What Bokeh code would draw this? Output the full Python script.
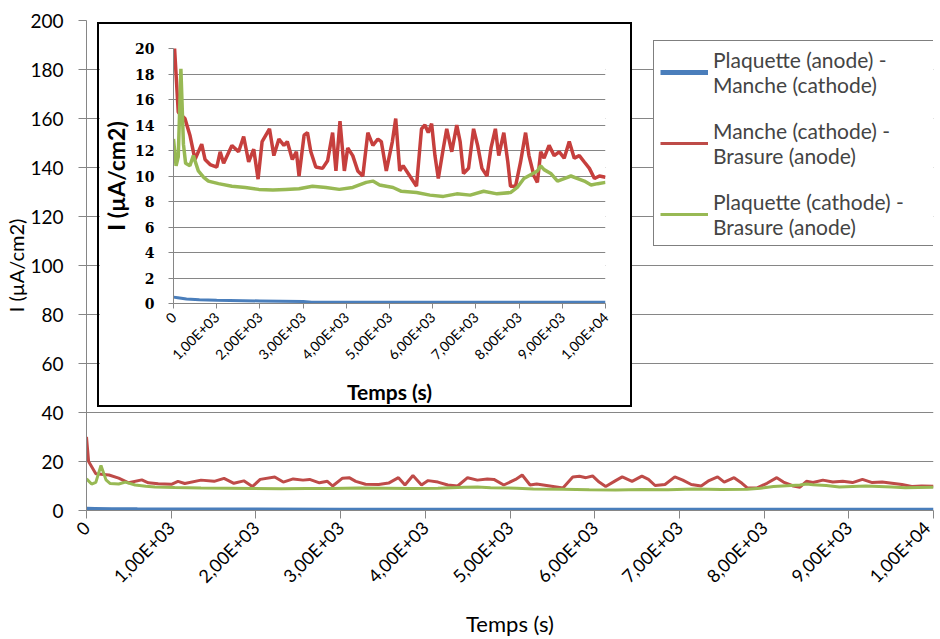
import math
from bokeh.plotting import figure
from bokeh.layouts import column
from bokeh.models import FixedTicker, Legend, LegendItem, Range1d
from bokeh.embed import file_html
from bokeh.resources import INLINE

# ---------------- data ----------------
x_ticks = [0, 1000, 2000, 3000, 4000, 5000, 6000, 7000, 8000, 9000, 10000]
x_tick_labels = ["0", "1,00E+03", "2,00E+03", "3,00E+03", "4,00E+03", "5,00E+03",
                 "6,00E+03", "7,00E+03", "8,00E+03", "9,00E+03", "1,00E+04"]
main_y_ticks = [0, 20, 40, 60, 80, 100, 120, 140, 160, 180, 200]
inset_y_ticks = [0, 2, 4, 6, 8, 10, 12, 14, 16, 18, 20]

series_names = ["Plaquette (anode) -\nManche (cathode)",
                "Manche (cathode) -\nBrasure (anode)",
                "Plaquette (cathode) -\nBrasure (anode)"]

t_blue = [0, 100, 300, 600, 1000, 2000, 3000, 3200, 5000, 7000, 10000]
i_blue = [0.5, 0.45, 0.35, 0.3, 0.25, 0.2, 0.15, 0.1, 0.1, 0.1, 0.1]

t_red = [0, 25, 110, 265, 380, 497, 653, 730, 847, 1002, 1080, 1160, 1352, 1507, 1624,
         1740, 1857, 1958, 2051, 2222, 2323, 2440, 2556, 2634, 2750, 2844, 2906, 3023,
         3101, 3179, 3294, 3450, 3567, 3683, 3760, 3854, 3955, 4033, 4149, 4266, 4382,
         4499, 4615, 4732, 4810, 4926, 5066, 5144, 5237, 5315, 5470, 5625, 5741, 5820,
         5897, 5975, 6052, 6130, 6247, 6325, 6441, 6557, 6635, 6713, 6830, 6946, 7040,
         7140, 7257, 7350, 7451, 7529, 7646, 7739, 7801, 7918, 8034, 8150, 8228, 8345,
         8423, 8500, 8578, 8694, 8811, 8928, 9044, 9161, 9277, 9394, 9510, 9627, 9744,
         9860, 10000]
i_red = [30, 20, 15, 14.5, 13.2, 11.3, 12.5, 11.3, 10.9, 10.7, 11.9, 11.0, 12.4, 11.9, 13.1,
         11.1, 12.1, 9.75, 12.7, 13.7, 11.6, 12.9, 12.4, 12.7, 11.3, 11.9, 10.0, 13.2,
         13.4, 11.9, 10.7, 10.6, 11.2, 13.4, 10.4, 14.3, 10.4, 12.2, 11.6, 10.4, 10.0,
         13.4, 12.4, 12.9, 12.7, 10.4, 12.7, 14.5, 10.4, 10.8, 10.0, 9.2, 13.7, 14.0,
         13.4, 14.1, 11.6, 9.8, 12.2, 13.7, 11.9, 14.0, 12.7, 10.2, 10.6, 13.7, 12.4,
         10.6, 10.0, 12.2, 13.7, 11.6, 13.4, 11.1, 9.2, 9.2, 11.1, 13.4, 11.6, 10.0,
         9.5, 11.9, 11.4, 12.4, 11.6, 11.9, 11.4, 12.7, 11.4, 11.6, 11.1, 10.6, 9.8,
         10.0, 9.9]

t_green = [0, 60, 110, 171, 230, 280, 380, 459, 575, 700, 808, 1041, 1352, 1663, 1974,
           2300, 2595, 2906, 3217, 3528, 3839, 4149, 4460, 4615, 4771, 5082, 5276, 5625,
           5936, 6247, 6557, 6868, 7179, 7490, 7801, 7957, 8111, 8267, 8423, 8500, 8578,
           8733, 8889, 9044, 9200, 9355, 9510, 9666, 9821, 10000]
i_green = [12.9, 10.8, 11.5, 18.4, 12.5, 11.0, 10.8, 11.6, 10.4, 9.9, 9.6, 9.4, 9.2, 9.1, 8.95,
           8.9, 8.95, 9.0, 9.2, 9.1, 8.95, 9.1, 9.5, 9.6, 9.3, 9.1, 8.8, 8.7,
           8.5, 8.4, 8.6, 8.5, 8.8, 8.6, 8.7, 9.1, 9.8, 10.1, 10.4, 10.8, 10.5,
           10.2, 9.6, 9.8, 10.0, 9.8, 9.6, 9.3, 9.4, 9.5]

# ---------------- style ----------------
BLUE = "#4A7EBB"
RED = "#BE4B48"
RED_INSET = "#C63F3D"
GREEN = "#98B954"
GRID = "#868686"
SANS = "Lato"

# ---------------- main figure ----------------
main = figure(width=934, height=639,
              min_border_left=86, min_border_right=1, min_border_top=20, min_border_bottom=128,
              x_range=Range1d(0, 10000), y_range=Range1d(0, 200),
              output_backend="svg", toolbar_location=None,
              background_fill_color="white", border_fill_color="white")
main.frame_align = False
main.outline_line_color = None
main.xgrid.visible = False
main.ygrid.grid_line_color = GRID
main.ygrid.ticker = FixedTicker(ticks=main_y_ticks)

rb = main.line(t_blue, i_blue, line_color=BLUE, line_width=5)
rr = main.line(t_red, i_red, line_color=RED, line_width=3)
rg = main.line(t_green, i_green, line_color=GREEN, line_width=3)

for ax in (main.xaxis[0], main.yaxis[0]):
    ax.axis_line_color = GRID
    ax.major_tick_line_color = GRID
    ax.minor_tick_line_color = None
    ax.major_tick_in = 0
    ax.major_tick_out = 8
    ax.major_label_text_font = SANS
    ax.major_label_text_color = "black"
    ax.axis_label_text_font = SANS
    ax.axis_label_text_font_style = "normal"
    ax.axis_label_text_color = "black"

main.xaxis.ticker = FixedTicker(ticks=x_ticks)
main.xaxis.major_label_overrides = {t: l for t, l in zip(x_ticks, x_tick_labels)}
main.xaxis.major_label_orientation = math.pi / 4
main.xaxis.major_label_text_font_size = "18px"
main.xaxis.major_label_standoff = 6
main.xaxis.axis_label = "Temps (s)"
main.xaxis.axis_label_text_font_size = "22px"
main.xaxis.axis_label_standoff = 12

main.yaxis.ticker = FixedTicker(ticks=main_y_ticks)
main.yaxis.major_label_text_font_size = "19px"
main.yaxis.major_label_standoff = 15
main.yaxis.axis_label = "I (µA/cm2)"
main.yaxis.axis_label_text_font_size = "20px"
main.yaxis.axis_label_standoff = -1

legend = Legend(
    items=[LegendItem(label=series_names[0], renderers=[rb]),
           LegendItem(label=series_names[1], renderers=[rr]),
           LegendItem(label=series_names[2], renderers=[rg])],
    location=(567, 264), orientation="vertical",
    border_line_color="black", border_line_width=1,
    background_fill_color="white", background_fill_alpha=1.0,
    label_text_font=SANS, label_text_font_size="21px",
    glyph_width=48, glyph_height=20, label_standoff=5, label_width=225,
    padding=6, spacing=21, margin=0)
main.add_layout(legend, "center")

# ---------------- inset figure ----------------
inset = figure(width=531, height=381,
               min_border_left=73, min_border_right=29, min_border_top=24, min_border_bottom=106,
               x_range=Range1d(0, 10000), y_range=Range1d(0, 20),
               output_backend="svg", toolbar_location=None,
               background_fill_color="white", border_fill_color="white")
inset.frame_align = False
inset.outline_line_color = None
inset.xgrid.visible = False
inset.ygrid.grid_line_color = GRID
inset.ygrid.ticker = FixedTicker(ticks=inset_y_ticks)

inset.line(t_blue, i_blue, line_color=BLUE, line_width=3)
inset.line(t_red, i_red, line_color=RED_INSET, line_width=3.5)
inset.line(t_green, i_green, line_color=GREEN, line_width=3.5)

for ax in (inset.xaxis[0], inset.yaxis[0]):
    ax.axis_line_color = GRID
    ax.major_tick_line_color = GRID
    ax.minor_tick_line_color = None
    ax.major_tick_in = 0
    ax.major_tick_out = 5
    ax.major_label_text_color = "black"
    ax.axis_label_text_font = SANS
    ax.axis_label_text_font_style = "bold"
    ax.axis_label_text_color = "black"

inset.xaxis.ticker = FixedTicker(ticks=x_ticks)
inset.xaxis.major_label_overrides = {t: l for t, l in zip(x_ticks, x_tick_labels)}
inset.xaxis.major_label_orientation = math.pi / 4
inset.xaxis.major_label_text_font = SANS
inset.xaxis.major_label_text_font_size = "14px"
inset.xaxis.major_label_standoff = 6
inset.xaxis.axis_label = "Temps (s)"
inset.xaxis.axis_label_text_font_size = "21px"
inset.xaxis.axis_label_standoff = 7

inset.yaxis.ticker = FixedTicker(ticks=inset_y_ticks)
inset.yaxis.major_label_text_font = "DejaVu Serif"
inset.yaxis.major_label_text_font_style = "bold"
inset.yaxis.major_label_text_font_size = "14px"
inset.yaxis.major_label_standoff = 14
inset.yaxis.axis_label = "I (µA/cm2)"
inset.yaxis.axis_label_text_font_size = "23px"
inset.yaxis.axis_label_standoff = 2

inset.styles = {"position": "absolute", "left": "97px", "top": "22px",
                "border": "2px solid black", "box-sizing": "content-box", "z-index": "10"}

layout = column(main, inset)

with open("out.html", "w") as f:
    f.write(file_html(layout, INLINE))
